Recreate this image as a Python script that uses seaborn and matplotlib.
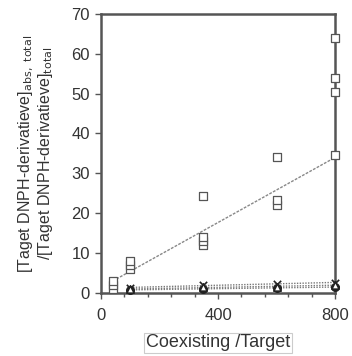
import numpy as np
import pandas as pd
import matplotlib
matplotlib.use("Agg")
import matplotlib.pyplot as plt
from matplotlib.ticker import MultipleLocator
import seaborn as sns

# ratio values
ratio_x = [40, 40, 40, 100, 100, 100, 350, 350, 350, 350, 600, 600, 600, 800, 800, 800, 800]
ratio_y = [1, 2, 3, 6, 7, 8, 12, 13, 14, 24.3, 22, 23.3, 34, 34.6, 50.4, 54, 64]

# trend line as drawn in the picture
trend_x = [40, 800]
trend_y = [3, 34]

low_x = [100, 350, 600, 800]
cross_y = [1.3, 2.0, 2.3, 2.6]
dot_y = [0.8, 1.0, 1.3, 1.5]
tri_y = [1.0, 1.4, 1.6, 2.0]

sns.set_style("white")
plt.rcParams["font.family"] = ["Liberation Sans", "DejaVu Sans"]

fig = plt.figure(figsize=(3.52, 3.56), dpi=100)
ax = fig.add_axes([0.287, 0.177, 0.665, 0.784])

df = pd.DataFrame({"x": ratio_x, "y": ratio_y})
sns.scatterplot(data=df, x="x", y="y", marker="s", s=30, facecolor="white",
                edgecolor="#555555", linewidth=0.9, ax=ax, clip_on=False, zorder=3)
sns.lineplot(x=trend_x, y=trend_y, ax=ax, color="#888888", lw=1, ls=(0, (2, 1)))

for ys, mk, fc in [(cross_y, "x", "#222222"), (dot_y, "o", "#222222"), (tri_y, "^", "white")]:
    d = pd.DataFrame({"x": low_x, "y": ys})
    sns.regplot(data=d, x="x", y="y", scatter=False, ci=None, ax=ax,
                line_kws=dict(color="#777777", lw=1, ls=(0, (1, 1))))
    ax.scatter(d["x"], d["y"], marker=mk, s=28, facecolor=fc, edgecolor="#222222",
               color="#222222" if mk == "x" else None, linewidth=1.2, zorder=4, clip_on=False)

ax.set_xlim(0, 800)
ax.set_ylim(0, 70)
ax.xaxis.set_major_locator(MultipleLocator(400))
ax.xaxis.set_minor_locator(MultipleLocator(80))
ax.yaxis.set_major_locator(MultipleLocator(10))
ax.tick_params(which="both", direction="out", color="#555555", labelsize=12,
               labelcolor="#333333", bottom=True, left=True)
ax.tick_params(which="major", length=4, width=1, pad=4)
ax.tick_params(axis="x", which="major", pad=7)
ax.tick_params(which="minor", length=3, width=1)
for s in ax.spines.values():
    s.set_color("#555555")
    s.set_linewidth(1.8)

ax.set_xlabel("Coexisting /Target", fontsize=13, color="#333333", labelpad=8,
              bbox=dict(facecolor="white", edgecolor="#cccccc", lw=0.8, pad=1.0))
ax.set_ylabel("[Taget DNPH-derivatieve]$_{\\rm abs,\\ total}$\n/[Taget DNPH-derivatieve]$_{\\rm total}$",
              fontsize=11.5, color="#333333", labelpad=12, linespacing=1.0)

fig.savefig("out.png", dpi=100)
